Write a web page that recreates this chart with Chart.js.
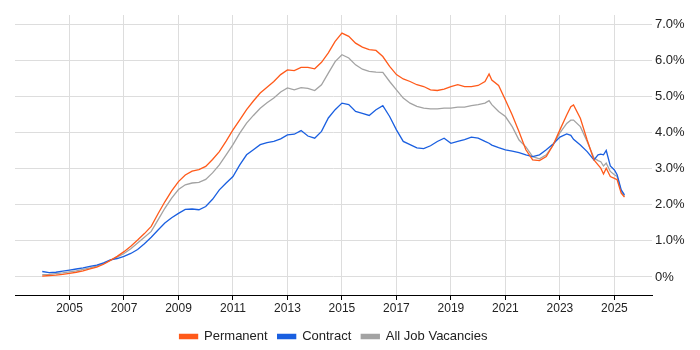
<!DOCTYPE html>
<html>
<head>
<meta charset="utf-8">
<script src="https://cdn.jsdelivr.net/npm/chart.js@4.4.1/dist/chart.umd.min.js"></script>
<style>
    html, body { margin: 0; padding: 0; background: #ffffff; }
    #wrap { width: 700px; height: 350px; }
</style>
</head>
<body>
<div id="wrap"><canvas id="chart"></canvas></div>
<script>
const dates = [
    2004.0, 2004.25, 2004.5, 2004.75, 2005.0, 2005.25, 2005.5, 2005.75,
    2006.0, 2006.25, 2006.5, 2006.75, 2007.0, 2007.25, 2007.5, 2007.75,
    2008.0, 2008.25, 2008.5, 2008.75, 2009.0, 2009.25, 2009.5, 2009.75,
    2010.0, 2010.25, 2010.5, 2010.75, 2011.0, 2011.25, 2011.5, 2011.75,
    2012.0, 2012.25, 2012.5, 2012.75, 2013.0, 2013.25, 2013.5, 2013.75,
    2014.0, 2014.25, 2014.5, 2014.75, 2015.0, 2015.25, 2015.5, 2015.75,
    2016.0, 2016.25, 2016.5, 2016.75, 2017.0, 2017.25, 2017.5, 2017.75,
    2018.0, 2018.25, 2018.5, 2018.75, 2019.0, 2019.25, 2019.5, 2019.75,
    2020.0, 2020.25, 2020.4, 2020.5, 2020.75, 2021.0, 2021.25, 2021.5,
    2021.75, 2022.0, 2022.25, 2022.5, 2022.75, 2023.0, 2023.25, 2023.4,
    2023.5, 2023.75, 2024.0, 2024.25, 2024.4, 2024.5, 2024.6, 2024.7,
    2024.85, 2025.0, 2025.1, 2025.25, 2025.37,
];

const permanent = [
    0.02, 0.04, 0.05, 0.07, 0.10, 0.13, 0.17, 0.22,
    0.27, 0.35, 0.46, 0.57, 0.70, 0.85, 1.02, 1.20,
    1.40, 1.75, 2.08, 2.38, 2.64, 2.82, 2.93, 2.97,
    3.06, 3.25, 3.47, 3.76, 4.07, 4.35, 4.63, 4.87,
    5.09, 5.25, 5.41, 5.60, 5.73, 5.71, 5.80, 5.80,
    5.76, 5.94, 6.20, 6.52, 6.75, 6.66, 6.47, 6.36,
    6.29, 6.27, 6.10, 5.83, 5.60, 5.48, 5.41, 5.32,
    5.27, 5.18, 5.16, 5.20, 5.27, 5.32, 5.27, 5.27,
    5.30, 5.41, 5.62, 5.45, 5.30, 4.90, 4.48, 4.02,
    3.52, 3.24, 3.22, 3.33, 3.65, 4.07, 4.48, 4.71,
    4.76, 4.39, 3.79, 3.24, 3.10, 3.01, 2.85, 3.01,
    2.78, 2.73, 2.69, 2.32, 2.21,
];

const contract = [
    0.15, 0.12, 0.13, 0.16, 0.19, 0.22, 0.25, 0.29,
    0.33, 0.39, 0.47, 0.51, 0.57, 0.65, 0.76, 0.92,
    1.10, 1.30, 1.49, 1.64, 1.76, 1.87, 1.88, 1.86,
    1.95, 2.15, 2.41, 2.60, 2.78, 3.10, 3.38, 3.52,
    3.66, 3.72, 3.75, 3.82, 3.93, 3.95, 4.05, 3.90,
    3.84, 4.03, 4.40, 4.63, 4.81, 4.77, 4.58, 4.53,
    4.47, 4.63, 4.74, 4.44, 4.07, 3.75, 3.66, 3.57,
    3.55, 3.63, 3.75, 3.84, 3.70, 3.75, 3.80, 3.87,
    3.84, 3.75, 3.70, 3.65, 3.58, 3.52, 3.48, 3.44,
    3.38, 3.33, 3.38, 3.52, 3.68, 3.87, 3.96, 3.92,
    3.81, 3.65, 3.47, 3.24, 3.38, 3.40, 3.38, 3.50,
    3.07, 2.96, 2.83, 2.41, 2.27,
];

const allJobs = [
    0.06, 0.07, 0.09, 0.11, 0.14, 0.17, 0.21, 0.25,
    0.30, 0.37, 0.46, 0.55, 0.65, 0.78, 0.94, 1.10,
    1.26, 1.58, 1.90, 2.18, 2.42, 2.55, 2.60, 2.62,
    2.70, 2.88, 3.10, 3.38, 3.66, 3.98, 4.26, 4.47,
    4.67, 4.82, 4.95, 5.12, 5.23, 5.18, 5.24, 5.22,
    5.16, 5.32, 5.64, 5.96, 6.15, 6.06, 5.87, 5.75,
    5.69, 5.67, 5.66, 5.41, 5.18, 4.95, 4.81, 4.72,
    4.67, 4.65, 4.65, 4.67, 4.67, 4.70, 4.70, 4.74,
    4.77, 4.81, 4.88, 4.77, 4.58, 4.44, 4.16, 3.79,
    3.60, 3.33, 3.27, 3.38, 3.65, 3.99, 4.25, 4.34,
    4.34, 4.16, 3.75, 3.29, 3.22, 3.19, 3.07, 3.15,
    2.92, 2.83, 2.78, 2.37, 2.23,
];

const yearTicks = [2005, 2007, 2009, 2011, 2013, 2015, 2017, 2019, 2021, 2023, 2025];
const pctTicks = [0, 1, 2, 3, 4, 5, 6, 7];

const toPoints = (values) => values.map((v, i) => ({ x: dates[i], y: v }));

const makeSeries = (label, values, color) => ({
    label,
    data: toPoints(values),
    borderColor: color,
    backgroundColor: color,
    borderWidth: 1.3,
    pointRadius: 0,
    tension: 0,
});

new Chart(document.getElementById('chart'), {
    type: 'line',
    data: {
        datasets: [
            makeSeries('Permanent', permanent, '#ff5a1a'),
            makeSeries('Contract', contract, '#1a5fe0'),
            makeSeries('All Job Vacancies', allJobs, '#a3a3a3'),
        ],
    },
    options: {
        responsive: true,
        maintainAspectRatio: false,
        animation: false,
        layout: {
            padding: { left: 15, top: 15, right: 0, bottom: -3 },
        },
        plugins: {
            tooltip: { enabled: false },
            legend: {
                position: 'bottom',
                fullSize: false,
                labels: {
                    boxWidth: 18,
                    boxHeight: 4,
                    padding: 10,
                    color: '#222222',
                    font: { family: '"Liberation Sans", Arial, sans-serif', size: 13 },
                },
            },
        },
        scales: {
            x: {
                type: 'linear',
                min: 2003.0,
                max: 2026.38,
                afterBuildTicks: (scale) => {
                    scale.ticks = yearTicks.map((v) => ({ value: v }));
                },
                afterFit: (scale) => {
                    scale.height = 25;
                },
                grid: {
                    color: '#dddddd',
                    lineWidth: 1,
                    drawTicks: true,
                    tickLength: 5,
                    tickColor: '#000000',
                },
                border: { display: true, color: '#000000', width: 1 },
                ticks: {
                    autoSkip: false,
                    maxRotation: 0,
                    padding: 1,
                    color: '#222222',
                    font: { family: '"Liberation Sans", Arial, sans-serif', size: 12 },
                    callback: (value) => String(value),
                },
            },
            y: {
                position: 'right',
                min: -0.5,
                max: 7.25,
                afterBuildTicks: (scale) => {
                    scale.ticks = pctTicks.map((v) => ({ value: v }));
                },
                afterFit: (scale) => {
                    scale.width = 48;
                },
                grid: {
                    color: '#dddddd',
                    lineWidth: 1,
                    drawTicks: false,
                },
                border: { display: false },
                ticks: {
                    padding: 3,
                    color: '#222222',
                    font: { family: '"Liberation Sans", Arial, sans-serif', size: 13 },
                    callback: (value) => (value === 0 ? '0%' : value.toFixed(1) + '%'),
                },
            },
        },
    },
});
</script>
</body>
</html>
